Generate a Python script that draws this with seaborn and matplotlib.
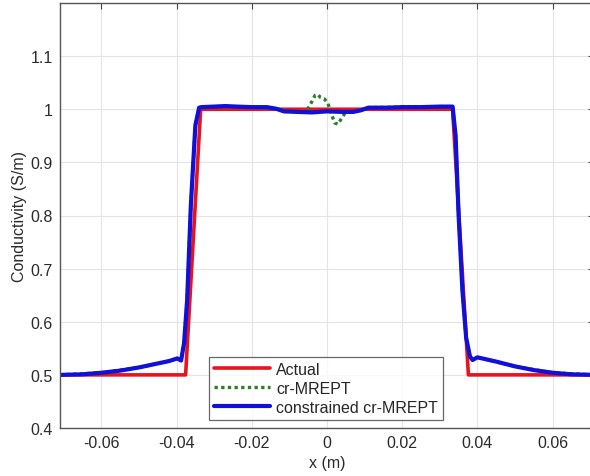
import matplotlib
matplotlib.use("Agg")
import matplotlib.pyplot as plt
import seaborn as sns

# Actual conductivity profile
actual_x = [-0.071, -0.0376, -0.0336, 0.0334, 0.0376, 0.071]
actual_y = [0.5, 0.5, 1.0, 1.0, 0.5, 0.5]

# constrained cr-MREPT
blue_x = [-0.071, -0.065, -0.06, -0.055, -0.05, -0.046, -0.042, -0.0398, -0.0388, -0.0380,
          -0.0372, -0.0362, -0.0350, -0.0340, -0.0334, -0.03, -0.027, -0.024, -0.02, -0.016,
          -0.0135, -0.0115, -0.008, -0.004, 0.0, 0.004, 0.007, 0.009, 0.011, 0.016,
          0.02, 0.025, 0.03, 0.0334, 0.0342, 0.0350, 0.0360, 0.0370, 0.0380, 0.0387,
          0.040, 0.045, 0.05, 0.055, 0.06, 0.065, 0.071]
blue_y = [0.5, 0.501, 0.504, 0.508, 0.514, 0.52, 0.526, 0.531, 0.527, 0.56,
          0.64, 0.82, 0.97, 1.003, 1.004, 1.005, 1.006, 1.005, 1.004, 1.004,
          1.001, 0.996, 0.995, 0.994, 0.996, 0.995, 0.995, 0.998, 1.003, 1.003,
          1.004, 1.004, 1.005, 1.005, 0.95, 0.8, 0.66, 0.57, 0.535, 0.528,
          0.533, 0.525, 0.516, 0.509, 0.504, 0.501, 0.5]

# cr-MREPT (differs in the centre)
green_x = [-0.071, -0.06, -0.05, -0.042, -0.0398, -0.0388, -0.0380, -0.0372, -0.0362, -0.0350,
           -0.0340, -0.03, -0.02, -0.0135, -0.008, -0.0055, -0.0042, -0.0032, -0.0025, -0.0017,
           -0.0008, 0.0002, 0.0012, 0.0021, 0.0029, 0.0038, 0.005, 0.009, 0.011, 0.02,
           0.03, 0.0334, 0.0342, 0.0350, 0.0360, 0.0370, 0.0380, 0.0387, 0.040, 0.05,
           0.06, 0.071]
green_y = [0.5, 0.504, 0.514, 0.526, 0.531, 0.527, 0.56, 0.64, 0.82, 0.97,
           1.003, 1.005, 1.004, 1.0, 0.995, 0.996, 1.012, 1.026, 1.028, 1.022,
           1.02, 1.012, 0.99, 0.974, 0.972, 0.982, 0.995, 0.998, 1.003, 1.004,
           1.005, 1.005, 0.95, 0.8, 0.66, 0.57, 0.535, 0.528, 0.533, 0.516,
           0.504, 0.5]

x_ticks = [-0.06, -0.04, -0.02, 0, 0.02, 0.04, 0.06]
x_labels = ["-0.06", "-0.04", "-0.02", "0", "0.02", "0.04", "0.06"]
y_ticks = [0.4, 0.5, 0.6, 0.7, 0.8, 0.9, 1.0, 1.1]
y_labels = ["0.4", "0.5", "0.6", "0.7", "0.8", "0.9", "1", "1.1"]

sns.set_style("white")
plt.rcParams['font.family'] = ['Liberation Sans', 'DejaVu Sans']

fig = plt.figure(figsize=(5.9, 4.77), dpi=100)
# left spine at x=60px, bottom at y=429px, axes extend slightly past right edge
ax = fig.add_axes([60 / 590, 48 / 477, 534 / 590, 425 / 477])

sns.lineplot(x=actual_x, y=actual_y, ax=ax, color="#e8141c", linewidth=2.6,
             label="Actual", estimator=None, sort=False)
sns.lineplot(x=green_x, y=green_y, ax=ax, color="#2e7d2e", linewidth=2.4,
             linestyle=(0, (1, 1)), label="cr-MREPT", estimator=None, sort=False)
sns.lineplot(x=blue_x, y=blue_y, ax=ax, color="#1010d8", linewidth=3.0,
             label="constrained cr-MREPT", estimator=None, sort=False)

ax.set_xlim(-0.071, 0.071)
ax.set_ylim(0.4, 1.2)
ax.set_xticks(x_ticks)
ax.set_xticklabels(x_labels)
ax.set_yticks(y_ticks)
ax.set_yticklabels(y_labels)
ax.grid(True, color="#e4e4e4", linewidth=0.8)
ax.tick_params(direction="in", top=True, right=True, length=4, width=0.8,
               labelsize=11.5, colors="#444444", pad=5)
ax.tick_params(labelcolor="#2a2a2a")
for s in ax.spines.values():
    s.set_visible(True)
    s.set_color("#555555")
    s.set_linewidth(1.0)

ax.set_xlabel("x (m)", fontsize=11.5, color="#2a2a2a", labelpad=4)
ax.set_ylabel("Conductivity (S/m)", fontsize=11.5, color="#2a2a2a", labelpad=3)

leg = ax.legend(loc="lower left", bbox_to_anchor=(0.279, 0.020), fontsize=11.5,
                frameon=True, fancybox=False, edgecolor="#444444",
                handlelength=3.5, borderpad=0.3, labelspacing=0.25,
                handletextpad=0.4, borderaxespad=0)
leg.get_frame().set_linewidth(0.9)

fig.savefig("out.png", dpi=100)
